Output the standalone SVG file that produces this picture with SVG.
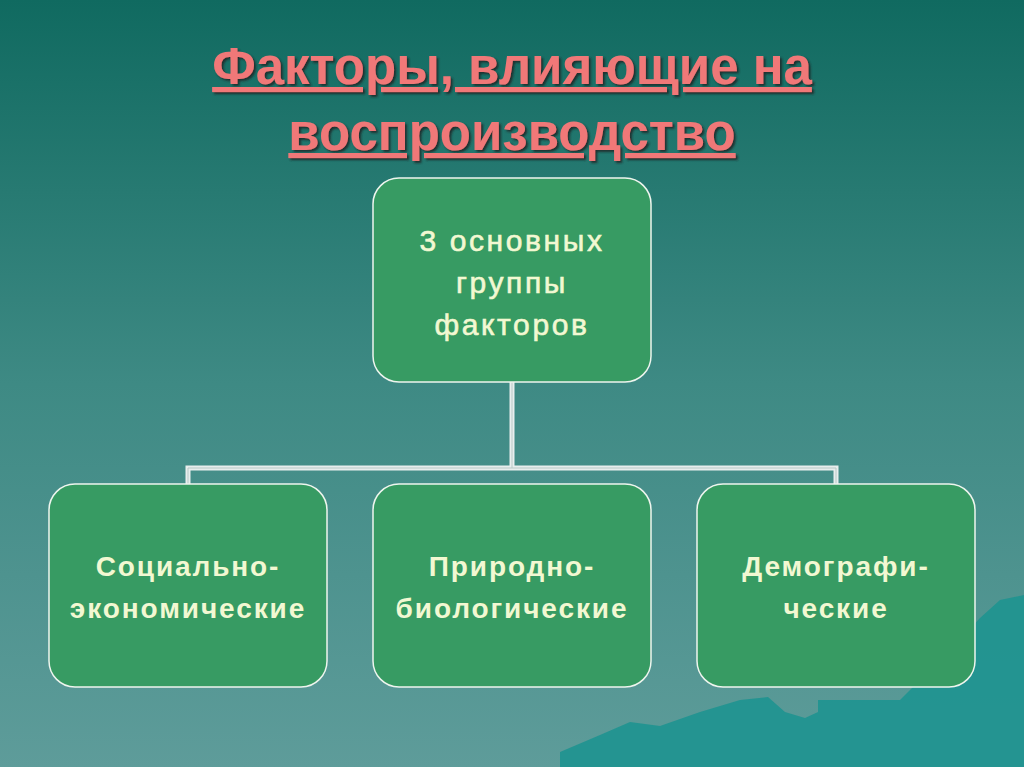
<svg xmlns="http://www.w3.org/2000/svg" width="1024" height="767" viewBox="0 0 1024 767">
<defs>
<linearGradient id="bg" x1="0" y1="0" x2="0" y2="1">
<stop offset="0" stop-color="#106a60"/>
<stop offset="0.5" stop-color="#3e8a84"/>
<stop offset="1" stop-color="#5e9c9a"/>
</linearGradient>
<filter id="sh"><feDropShadow dx="2" dy="2" stdDeviation="0.8" flood-color="#1a2a28" flood-opacity="0.9"/></filter>
</defs>
<style>
.box{fill:#379b63;stroke:#eef5ee;stroke-width:1.5}
.t{font-family:"Liberation Sans",Arial,sans-serif;font-size:28px;font-weight:bold;fill:#f2f8d2;text-anchor:middle;letter-spacing:1.9px}
.tn{font-family:"Liberation Sans",Arial,sans-serif;font-size:30px;fill:#f2f8d2;text-anchor:middle;letter-spacing:2.6px;stroke:#f2f8d2;stroke-width:0.6}
.title{font-family:"Liberation Sans",Arial,sans-serif;font-size:51px;font-weight:bold;fill:#f07878;text-anchor:middle;text-decoration:underline;filter:url(#sh)}
.c{fill:none;stroke:#e8eeee;stroke-width:5}
.ci{fill:none;stroke:#b8c8c6;stroke-width:1}
</style>
<rect width="1024" height="767" fill="url(#bg)"/>
<path d="M560,767 L560,752 L600,735 L630,722 L660,726 L700,712 L740,700 L768,697 L785,712 L805,718 L818,712 L818,700 L900,700 L960,640 L980,618 L1000,600 L1024,595 L1024,767 Z" fill="#1e9490" opacity="0.9"/>
<text class="title" x="512" y="84">Факторы, влияющие на</text>
<text class="title" x="512" y="150">воспроизводство</text>
<g id="connectors">
<path class="c" d="M512,382 V468 M188,484 V468 H836 V484"/>
<path class="ci" d="M512,382 V468 M188,484 V468 H836 V484"/>
</g>
<g id="n0"><rect class="box" x="373" y="178" width="278" height="204" rx="26"/>
<text class="tn" x="512" y="251">3 основных</text>
<text class="tn" x="512" y="293">группы</text>
<text class="tn" x="512" y="335">факторов</text></g>
<g id="n1"><rect class="box" x="49" y="484" width="278" height="203" rx="26"/>
<text class="t" x="188" y="576">Социально-</text>
<text class="t" x="188" y="618">экономические</text></g>
<g id="n2"><rect class="box" x="373" y="484" width="278" height="203" rx="26"/>
<text class="t" x="512" y="576">Природно-</text>
<text class="t" x="512" y="618">биологические</text></g>
<g id="n3"><rect class="box" x="697" y="484" width="278" height="203" rx="26"/>
<text class="t" x="836" y="576">Демографи-</text>
<text class="t" x="836" y="618">ческие</text></g>
</svg>
